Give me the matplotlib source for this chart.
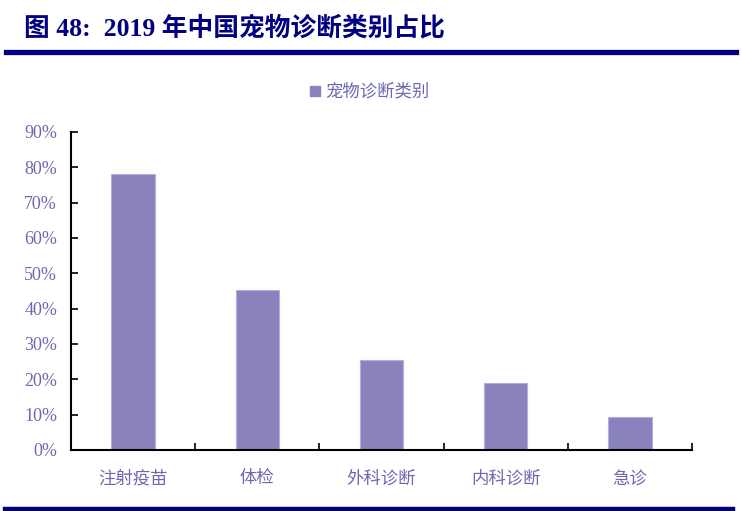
import matplotlib.pyplot as plt
from matplotlib.lines import Line2D
from matplotlib.patches import Patch

plt.rcParams['font.family'] = ['Liberation Serif', 'Noto Sans CJK SC', 'DejaVu Sans']

# data
categories = ["注射疫苗", "体检", "外科诊断", "内科诊断", "急诊"]
shares = [0.78, 0.453, 0.255, 0.189, 0.094]
y_ticks = [0, 0.1, 0.2, 0.3, 0.4, 0.5, 0.6, 0.7, 0.8, 0.9]
series_name = "宠物诊断类别"

bar_color = "#8a82bd"
text_color = "#6c68b0"
navy = "#000080"

fig = plt.figure(figsize=(7.42, 5.11), dpi=100)
ax = fig.add_axes([71 / 742, 1 - 450 / 511, (692 - 71) / 742, (450 - 132) / 511])

x = list(range(len(categories)))
ax.bar(x, shares, width=0.35, color=bar_color, edgecolor="#b3aee0", linewidth=0.8)

ax.set_xlim(-0.5, len(categories) - 0.5)
ax.set_ylim(0, 0.9)
ax.set_yticks(y_ticks)
ax.set_yticklabels([f"{int(round(v * 100))}%" for v in y_ticks])

# boundary ticks without labels, labels at bar centres
ax.set_xticks([i - 0.5 for i in range(len(categories) + 1)])
ax.set_xticklabels([])
ax.set_xticks(x, minor=True)
ax.set_xticklabels(categories, minor=True, family=['Noto Sans CJK SC'], fontsize=12.5, color=text_color)
ax.tick_params(axis="x", which="major", direction="in", length=5, width=1.2, color="black")
ax.tick_params(axis="x", which="minor", length=0, pad=14)
ax.tick_params(axis="y", direction="in", length=5, width=1.2, labelsize=13, labelcolor=text_color, pad=10)

for side in ["top", "right"]:
    ax.spines[side].set_visible(False)
for side in ["left", "bottom"]:
    ax.spines[side].set_linewidth(1.5)

ax.legend(handles=[Patch(color=bar_color, label=series_name)], loc="center",
          bbox_to_anchor=(370 / 742, 1 - 92 / 511), bbox_transform=fig.transFigure,
          frameon=False, handlelength=0.55, handleheight=0.55, handletextpad=0.3,
          prop={"family": "Noto Sans CJK SC", "size": 12.5}, labelcolor=text_color)

fig.text(24 / 742, 1 - 28 / 511, "图 48:  2019 年中国宠物诊断类别占比", color=navy,
         fontsize=18.5, fontweight="bold", va="center", ha="left")

fig.add_artist(Line2D([6 / 742, 736 / 742], [1 - 52.5 / 511, 1 - 52.5 / 511], color=navy, linewidth=3.8))
fig.add_artist(Line2D([5 / 742, 733 / 742], [1 - 508.5 / 511, 1 - 508.5 / 511], color=navy, linewidth=3.2))

fig.savefig("out.png", dpi=100)
